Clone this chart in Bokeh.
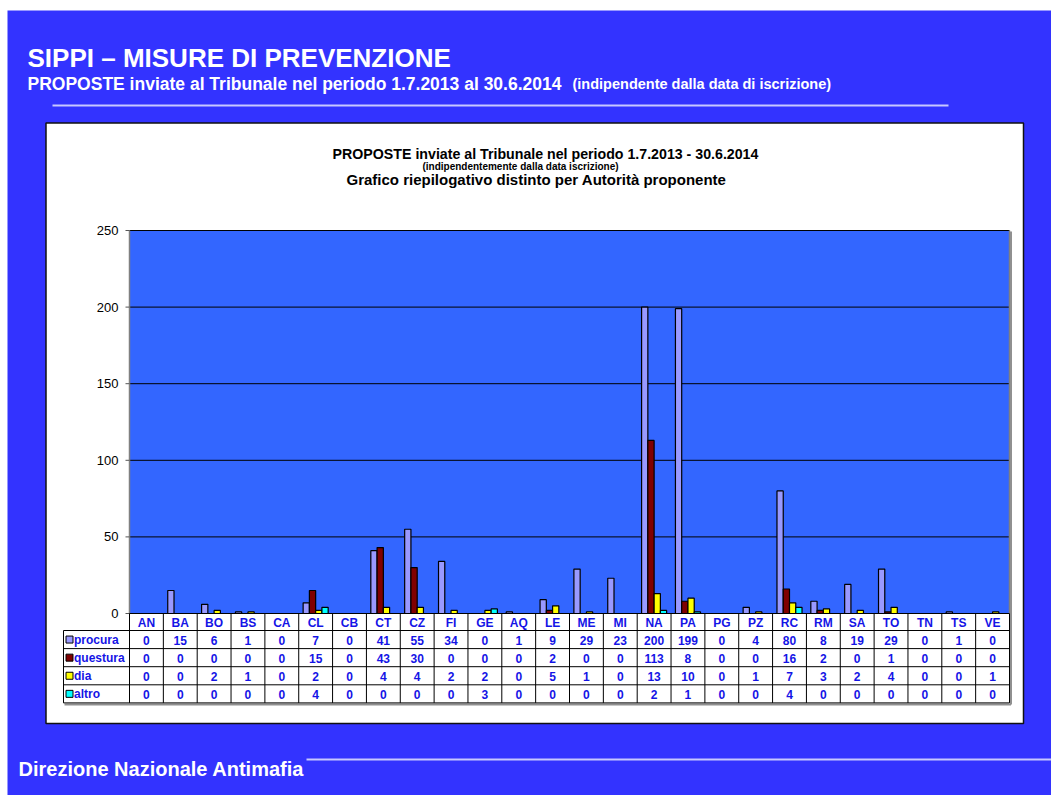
import numpy as np
from bokeh.plotting import figure
from bokeh.models import Range1d, ColumnDataSource
from bokeh.embed import file_html
from bokeh.resources import INLINE
from bokeh.core.properties import value

# ---------------- data ----------------
categories = ["AN", "BA", "BO", "BS", "CA", "CL", "CB", "CT", "CZ", "FI", "GE", "AQ", "LE",
              "ME", "MI", "NA", "PA", "PG", "PZ", "RC", "RM", "SA", "TO", "TN", "TS", "VE"]
procura = [0, 15, 6, 1, 0, 7, 0, 41, 55, 34, 0, 1, 9, 29, 23, 200, 199, 0, 4, 80, 8, 19, 29, 0, 1, 0]
questura = [0, 0, 0, 0, 0, 15, 0, 43, 30, 0, 0, 0, 2, 0, 0, 113, 8, 0, 0, 16, 2, 0, 1, 0, 0, 0]
dia = [0, 0, 2, 1, 0, 2, 0, 4, 4, 2, 2, 0, 5, 1, 0, 13, 10, 0, 1, 7, 3, 2, 4, 0, 0, 1]
altro = [0, 0, 0, 0, 0, 4, 0, 0, 0, 0, 3, 0, 0, 0, 0, 2, 1, 0, 0, 4, 0, 0, 0, 0, 0, 0]
series_names = ["procura", "questura", "dia", "altro"]
y_ticks = [0, 50, 100, 150, 200, 250]

page_title = "SIPPI \u2013 MISURE DI PREVENZIONE"
page_sub1 = "PROPOSTE inviate al Tribunale nel periodo  1.7.2013 al 30.6.2014"
page_sub2 = "(indipendente dalla data di iscrizione)"
chart_t1 = "PROPOSTE inviate al Tribunale nel periodo 1.7.2013 - 30.6.2014"
chart_t2 = "(indipendentemente dalla data iscrizione)"
chart_t3 = "Grafico riepilogativo distinto per Autorit\u00e0 proponente"
footer = "Direzione Nazionale Antimafia"

# ---------------- styles / layout ----------------
BG = "#3333FF"
PLOT_BG = "#3366FF"
colors = ["#9999FF", "#800000", "#FFFF00", "#00FFFF"]
TXT_BLUE = "#1414E6"
FONT = value("Liberation Sans")

W, H = 1051, 795
PLOT_L, PLOT_R, PLOT_T, PLOT_B = 129, 1009, 230, 613
Y_MAX = 250
ncat = len(categories)
cw = (PLOT_R - PLOT_L) / ncat
k = (PLOT_B - PLOT_T) / Y_MAX

p = figure(width=W, height=H,
           x_range=Range1d((0 - PLOT_L) / cw, (W - PLOT_L) / cw),
           y_range=Range1d((PLOT_B - H) / k, (PLOT_B - 0) / k),
           x_axis_type=None, y_axis_type=None, title=None,
           min_border=0, toolbar_location=None, output_backend="svg",
           background_fill_color="white", border_fill_color="white", outline_line_color=None)
p.extra_x_ranges = {"px": Range1d(0, W)}
p.extra_y_ranges = {"px": Range1d(H, 0)}
PX = dict(x_range_name="px", y_range_name="px")

# slide background
p.quad(left=[7], right=[W], top=[10], bottom=[H], fill_color=BG, line_color=None, **PX)

# page header
p.text(x=[27], y=[57], text=[page_title], text_font=FONT, text_font_style="bold",
       text_font_size="26px", text_color="white", text_baseline="alphabetic", **PX)
p.text(x=[27], y=[83], text=[page_sub1], text_font=FONT, text_font_style="bold",
       text_font_size="17.5px", text_color="white", text_baseline="alphabetic", **PX)
p.text(x=[572], y=[83], text=[page_sub2], text_font=FONT, text_font_style="bold",
       text_font_size="14.5px", text_color="white", text_baseline="alphabetic", **PX)
p.segment(x0=[52], x1=[948], y0=[105], y1=[105], line_color="#C8C8FF", line_width=2, **PX)

# footer
p.segment(x0=[306], x1=[W], y0=[759], y1=[759], line_color="#C8C8FF", line_width=2, **PX)
p.text(x=[18], y=[768], text=[footer], text_font=FONT, text_font_style="bold",
       text_font_size="20px", text_color="white", text_baseline="alphabetic", **PX)

# white chart panel
p.quad(left=[45.5], right=[1023], top=[122.5], bottom=[723], fill_color="white",
       line_color="#111111", line_width=1.5, **PX)

# chart titles
p.text(x=[545], y=[153], text=[chart_t1], text_font=FONT, text_font_style="bold",
       text_font_size="14.2px", text_color="black", text_align="center", text_baseline="alphabetic", **PX)
p.text(x=[520], y=[166], text=[chart_t2], text_font=FONT, text_font_style="bold",
       text_font_size="10px", text_color="black", text_align="center", text_baseline="alphabetic", **PX)
p.text(x=[536], y=[179], text=[chart_t3], text_font=FONT, text_font_style="bold",
       text_font_size="15px", text_color="black", text_align="center", text_baseline="alphabetic", **PX)

# plot area
p.quad(left=[0], right=[ncat], bottom=[0], top=[Y_MAX], fill_color=PLOT_BG, line_color=None)
p.segment(x0=[0] * (len(y_ticks) - 1), x1=[ncat] * (len(y_ticks) - 1),
          y0=y_ticks[1:], y1=y_ticks[1:], line_color="black", line_width=1)
p.segment(x0=[0, ncat], x1=[0, ncat], y0=[0, 0], y1=[Y_MAX, Y_MAX], line_color="#808080", line_width=1.5)

# y axis ticks and labels (data y through scale)
p.segment(x0=[125] * len(y_ticks), x1=[129] * len(y_ticks), y0=y_ticks, y1=y_ticks,
          line_color="#555555", line_width=1, x_range_name="px")
p.text(x=[118] * len(y_ticks), y=y_ticks, text=[str(t) for t in y_ticks], text_font=FONT,
       text_font_size="13px", text_color="black", text_align="right", text_baseline="middle",
       x_range_name="px")

# bars
series = [procura, questura, dia, altro]
bw = 0.185
centers = np.arange(ncat) + 0.5
for s, (vals, col) in enumerate(zip(series, colors)):
    src = ColumnDataSource(dict(x=centers + (s - 1.5) * bw, top=vals))
    p.vbar(x="x", top="top", bottom=0, width=bw, source=src, fill_color=col,
           line_color="black", line_width=1.2)

# data table
HEAD_T, HEAD_B = 613, 630
ROW_H = 18.1
row_tops = [HEAD_B + i * ROW_H for i in range(len(series) + 1)]
TBL_L = 63

# shadow
p.segment(x0=[PLOT_R + 1.5], x1=[PLOT_R + 1.5], y0=[PLOT_T + 1], y1=[row_tops[-1] + 1.5],
          line_color="#909090", line_width=2, **PX)
p.segment(x0=[TBL_L + 1], x1=[PLOT_R + 1.5], y0=[row_tops[-1] + 1.5], y1=[row_tops[-1] + 1.5],
          line_color="#909090", line_width=2, **PX)

p.segment(x0=[PLOT_L] + [TBL_L] * len(row_tops), x1=[PLOT_R] * (len(row_tops) + 1),
          y0=[HEAD_T] + row_tops, y1=[HEAD_T] + row_tops, line_color="black", line_width=1, **PX)
bounds = list(range(ncat + 1))
p.segment(x0=bounds, x1=bounds, y0=[HEAD_T] * len(bounds), y1=[row_tops[-1]] * len(bounds),
          line_color="black", line_width=1, y_range_name="px")
p.segment(x0=[TBL_L], x1=[TBL_L], y0=[HEAD_B], y1=[row_tops[-1]], line_color="black", line_width=1, **PX)

p.text(x=centers, y=[(HEAD_T + HEAD_B) / 2 + 0.5] * ncat, text=categories, text_font=FONT,
       text_font_style="bold", text_font_size="12px", text_color=TXT_BLUE,
       text_align="center", text_baseline="middle", y_range_name="px")
for s, vals in enumerate(series):
    yc = row_tops[s] + ROW_H / 2 + 0.5
    p.text(x=centers, y=[yc] * ncat, text=[str(v) for v in vals], text_font=FONT,
           text_font_style="bold", text_font_size="12px", text_color=TXT_BLUE,
           text_align="center", text_baseline="middle", y_range_name="px")
    p.scatter(x=[69], y=[yc - 0.5], marker="square", size=7, fill_color=colors[s],
              line_color="black", line_width=1, **PX)
    p.text(x=[73.5], y=[yc], text=[series_names[s]], text_font=FONT, text_font_style="bold",
           text_font_size="12px", text_color=TXT_BLUE, text_align="left", text_baseline="middle", **PX)

open("out.html", "w").write(file_html(p, INLINE))
